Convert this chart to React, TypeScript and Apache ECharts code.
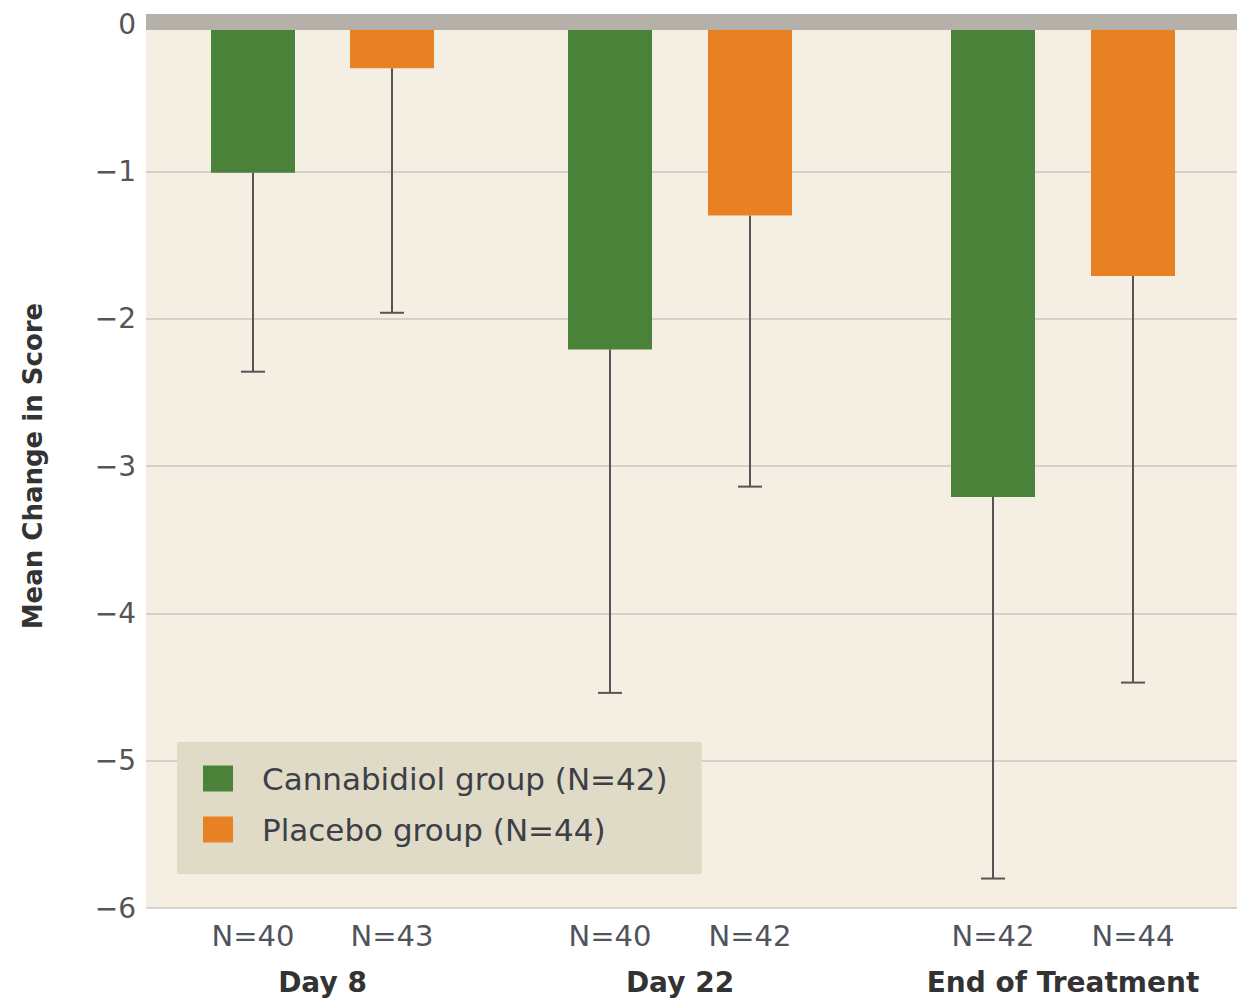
import React, { useEffect, useRef } from "react";
import * as echarts from "echarts";

const timepoints = ["Day 8", "Day 22", "End of Treatment"];
const seriesNames = ["Cannabidiol group (N=42)", "Placebo group (N=44)"];
const cbdMean = [-1.01, -2.21, -3.21];
const cbdErrLow = [-2.36, -4.54, -5.8];
const cbdN = [40, 40, 42];
const plMean = [-0.3, -1.3, -1.71];
const plErrLow = [-1.96, -3.14, -4.47];
const plN = [43, 42, 44];
// x positions along a hidden value axis (group slot layout)
const cbdX = [1.07, 4.64, 8.47];
const plX = [2.46, 6.04, 9.87];
const yTicks = [0, -1, -2, -3, -4, -5, -6];

const FONT = "'DejaVu Sans', sans-serif";
const GREEN = "#4b8239";
const ORANGE = "#e88024";

function makeRender(color: string) {
  return (params: any, api: any) => {
    const x = api.value(0);
    const m = api.value(1);
    const lo = api.value(2);
    const n = api.value(3);
    const top = api.coord([x, 0]);
    const bot = api.coord([x, m]);
    const err = api.coord([x, lo]);
    const base = api.coord([x, yTicks[yTicks.length - 1]]);
    const w = api.size([0.84, 0])[0];
    const cw = api.size([0.24, 0])[0];
    return {
      type: "group",
      children: [
        {
          type: "line",
          shape: { x1: bot[0], y1: bot[1], x2: err[0], y2: err[1] },
          style: { stroke: "#555555", lineWidth: 2 },
        },
        {
          type: "line",
          shape: { x1: err[0] - cw / 2, y1: err[1], x2: err[0] + cw / 2, y2: err[1] },
          style: { stroke: "#555555", lineWidth: 2 },
        },
        {
          type: "rect",
          shape: { x: top[0] - w / 2, y: top[1], width: w, height: bot[1] - top[1] },
          style: { fill: color },
        },
        {
          type: "text",
          x: base[0],
          y: base[1] + 28,
          style: {
            text: "N=" + n,
            fill: "#4f5460",
            font: `29px ${FONT}`,
            align: "center",
            verticalAlign: "middle",
          },
        },
      ],
    };
  };
}

export default function App() {
  const ref = useRef<HTMLDivElement>(null);
  useEffect(() => {
    if (!ref.current) return;
    const chart = echarts.init(ref.current, null, { renderer: "svg" });
    const groupMid = cbdX.map((x, i) => [(x + plX[i]) / 2]);
    chart.setOption({
      animation: false,
      backgroundColor: "#ffffff",
      grid: {
        left: 146,
        right: 2,
        top: 24,
        bottom: 92,
        show: true,
        backgroundColor: "#f5efe3",
        borderWidth: 0,
      },
      legend: {
        data: seriesNames,
        orient: "vertical",
        left: 177,
        top: 742,
        backgroundColor: "#e0dbc6",
        padding: [21, 34, 29, 26],
        itemWidth: 30,
        itemHeight: 26,
        itemGap: 20,
        icon: "rect",
        textStyle: {
          fontFamily: FONT,
          fontSize: 31,
          color: "#3d3f48",
          lineHeight: 30,
          padding: [0, 0, 0, 24],
        },
      },
      xAxis: {
        type: "value",
        min: 0,
        max: 10.91,
        position: "top",
        offset: 2,
        z: 10,
        axisLine: {
          show: true,
          onZero: false,
          lineStyle: { color: "#b5b1a9", width: 16, cap: "butt" },
        },
        axisTick: { show: false },
        axisLabel: { show: false },
        splitLine: { show: false },
      },
      yAxis: {
        type: "value",
        min: -6,
        max: 0,
        interval: 1,
        name: "Mean Change in Score",
        nameLocation: "middle",
        nameRotate: 90,
        nameGap: 100,
        nameTextStyle: { fontFamily: FONT, fontSize: 26, fontWeight: "bold", color: "#333333" },
        axisLine: { show: false },
        axisTick: { show: false },
        axisLabel: {
          fontFamily: FONT,
          fontSize: 28,
          color: "#555555",
          margin: 10,
          formatter: (v: number) => (v < 0 ? "\u2212" + Math.abs(v) : String(v)),
        },
        splitLine: { show: true, lineStyle: { color: "#cbc7bf", width: 1.5 } },
      },
      series: [
        {
          name: seriesNames[0],
          type: "custom",
          color: GREEN,
          itemStyle: { color: GREEN },
          renderItem: makeRender(GREEN),
          data: cbdX.map((x, i) => [x, cbdMean[i], cbdErrLow[i], cbdN[i]]),
          clip: false,
          z: 3,
        },
        {
          name: seriesNames[1],
          type: "custom",
          color: ORANGE,
          itemStyle: { color: ORANGE },
          renderItem: makeRender(ORANGE),
          data: plX.map((x, i) => [x, plMean[i], plErrLow[i], plN[i]]),
          clip: false,
          z: 3,
        },
        {
          name: "labels",
          type: "custom",
          clip: false,
          silent: true,
          renderItem: (params: any, api: any) => {
            const p = api.coord([api.value(0), yTicks[yTicks.length - 1]]);
            return {
              type: "text",
              x: p[0],
              y: p[1] + 74,
              style: {
                text: timepoints[params.dataIndex],
                fill: "#333333",
                font: `bold 28px ${FONT}`,
                align: "center",
                verticalAlign: "middle",
              },
            };
          },
          data: groupMid,
        },
      ],
    });
    return () => chart.dispose();
  }, []);
  return (
    <div
      ref={ref}
      style={{ position: "absolute", left: 0, top: 0, width: 1239, height: 1000 }}
    />
  );
}
